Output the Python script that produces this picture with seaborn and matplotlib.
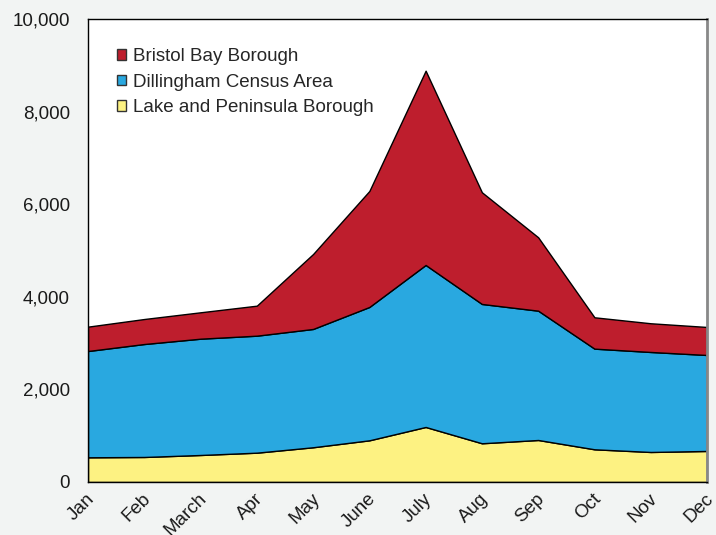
import numpy as np
import matplotlib
matplotlib.use("Agg")
import matplotlib.pyplot as plt
import matplotlib.transforms as mtransforms
import seaborn as sns
from matplotlib.ticker import FuncFormatter
from matplotlib.patches import Patch

# data
months = ['Jan', 'Feb', 'March', 'Apr', 'May', 'June', 'July', 'Aug', 'Sep', 'Oct', 'Nov', 'Dec']
lake = [533, 540, 583, 633, 750, 900, 1188, 836, 907, 706, 648, 670]
dillingham = [2296, 2440, 2512, 2527, 2555, 2880, 3499, 3009, 2793, 2174, 2160, 2073]
bristol = [526, 540, 570, 648, 1619, 2505, 4196, 2412, 1585, 677, 620, 605]
series_names = ['Lake and Peninsula Borough', 'Dillingham Census Area', 'Bristol Bay Borough']

colors = ['#FDF282', '#29A8E0', '#BE1E2D']

sns.set_theme(style='white')
plt.rcParams['font.family'] = ['Liberation Sans', 'DejaVu Sans']

fig = plt.figure(figsize=(7.16, 5.35), dpi=100, facecolor='#F2F4F3')
ax = fig.add_axes([0.1229, 0.0991, 0.8645, 0.8654])
ax.set_facecolor('white')

x = np.arange(len(months))
ax.stackplot(x, lake, dillingham, bristol, colors=colors,
             edgecolor='black', linewidth=1.0)

ax.set_xlim(0, len(months) - 1)
ax.set_ylim(0, 10000)
ax.set_yticks(range(0, 10001, 2000))
ax.yaxis.set_major_formatter(FuncFormatter(lambda v, p: f'{int(v):,}'))
ax.set_xticks(x)
ax.set_xticklabels(months, rotation=45, ha='right', va='top', rotation_mode='anchor')
ax.tick_params(axis='both', length=0, labelsize=13.5, colors='#1a1a1a')
ax.tick_params(axis='y', pad=13)
ax.tick_params(axis='x', pad=6)

# nudge the rotated month labels a bit to the left so "Dec" fits
shift = mtransforms.ScaledTranslation(-0.02, 0, fig.dpi_scale_trans)
for lbl in ax.get_xticklabels():
    lbl.set_transform(lbl.get_transform() + shift)

for side in ['left', 'top', 'bottom']:
    ax.spines[side].set_color('black')
    ax.spines[side].set_linewidth(1.0)
ax.spines['right'].set_color('#888888')
ax.spines['right'].set_linewidth(2.0)

handles = [Patch(facecolor=c, edgecolor='#333333', linewidth=1.0) for c in colors]
names = list(series_names)
leg = ax.legend(handles[::-1], names[::-1], loc='upper left',
                bbox_to_anchor=(0.034, 0.953), frameon=False, fontsize=13.5,
                handlelength=0.5, handleheight=0.5, handletextpad=0.4,
                labelspacing=0.45, borderaxespad=0)

fig.savefig('out.png', dpi=100, facecolor=fig.get_facecolor())
